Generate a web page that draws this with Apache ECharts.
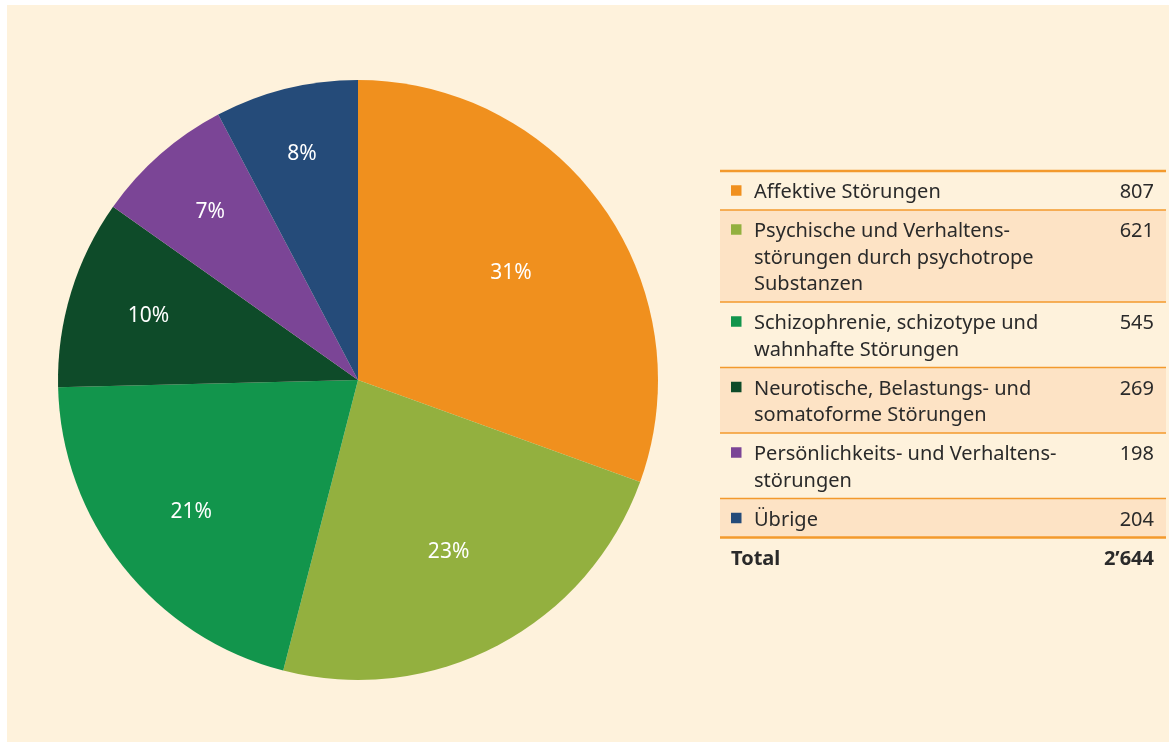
<!DOCTYPE html>
<html><head><meta charset="utf-8">
<script src="https://cdn.jsdelivr.net/npm/echarts@6/dist/echarts.min.js"></script>
<style>
html,body{margin:0;padding:0;background:#ffffff;}
#bg{position:absolute;left:7px;top:5px;width:1162px;height:737px;background:#fef2dc;}
#chart{position:absolute;left:0;top:0;width:1169px;height:742px;}
</style></head>
<body><div id="bg"></div><div id="chart"></div>
<script>
// ---- data ----
const categories = [
  'Affektive Störungen',
  'Psychische und Verhaltens-\nstörungen durch psychotrope\nSubstanzen',
  'Schizophrenie, schizotype und\nwahnhafte Störungen',
  'Neurotische, Belastungs- und\nsomatoforme Störungen',
  'Persönlichkeits- und Verhaltens-\nstörungen',
  'Übrige'
];
const values = [807, 621, 545, 269, 198, 204];
const valueLabels = ['807', '621', '545', '269', '198', '204'];
const totalLabel = 'Total';
const totalValue = '2’644';

// ---- styles ----
const colors = ['#f0901e', '#93b03f', '#12954c', '#0e4b29', '#7b4596', '#254b79'];
const labelRadius = [187, 194, 213, 219, 224, 233];
const CX = 358, CY = 380, R = 300;
const FONT = '"Noto Sans", "Open Sans", sans-serif';
const TEXT = '#2a2a2a';
const LINE = '#f39a2d';
const PEACH = '#fde3c5';

const chart = echarts.init(document.getElementById('chart'), null, {renderer: 'canvas'});

// ---- table graphics ----
const tL = 720, tR = 1166, markX = 731, textX = 754, valX = 1154;
const lineH = 26.5, padT = 6.75, padB = 5.75, textShift = 1.5;
const graphics = [];
const lines = [];
let y = 171;
categories.forEach((name, i) => {
  const parts = name.split('\n');
  const h = padT + padB + parts.length * lineH;
  if (i % 2 === 1) {
    graphics.push({type: 'rect', shape: {x: tL, y: y, width: tR - tL, height: h}, style: {fill: PEACH}, silent: true});
  }
  graphics.push({type: 'rect', shape: {x: markX, y: y + padT + 7.5, width: 10.5, height: 10.5}, style: {fill: colors[i]}, silent: true});
  parts.forEach((p, k) => {
    graphics.push({type: 'text', style: {text: p, x: textX, y: y + padT + lineH * k + lineH / 2 + textShift, font: '20px ' + FONT, fill: TEXT, textAlign: 'left', textVerticalAlign: 'middle'}, silent: true});
  });
  graphics.push({type: 'text', style: {text: valueLabels[i], x: valX, y: y + padT + lineH / 2 + textShift, font: '20px ' + FONT, fill: TEXT, textAlign: 'right', textVerticalAlign: 'middle'}, silent: true});
  y += h;
  lines.push({y: y, w: i === categories.length - 1 ? 2.5 : 1.5});
});
lines.unshift({y: 171, w: 2.5});
lines.forEach(l => {
  graphics.push({type: 'line', shape: {x1: tL, y1: l.y, x2: tR, y2: l.y}, style: {stroke: LINE, lineWidth: l.w}, silent: true});
});
graphics.push({type: 'text', style: {text: totalLabel, x: markX, y: y + padT + lineH / 2 + textShift, font: 'bold 20px ' + FONT, fill: TEXT, textAlign: 'left', textVerticalAlign: 'middle'}, silent: true});
graphics.push({type: 'text', style: {text: totalValue, x: valX, y: y + padT + lineH / 2 + textShift, font: 'bold 20px ' + FONT, fill: TEXT, textAlign: 'right', textVerticalAlign: 'middle'}, silent: true});

chart.setOption({
  animation: false,
  backgroundColor: 'transparent',
  color: colors,
  graphic: {elements: graphics},
  series: [{
    type: 'pie',
    center: [CX, CY],
    radius: [0, R],
    startAngle: 90,
    clockwise: true,
    avoidLabelOverlap: false,
    silent: true,
    itemStyle: {borderWidth: 0},
    label: {
      show: true,
      position: 'inside',
      color: '#ffffff',
      fontSize: 21,
      fontFamily: FONT,
      formatter: p => Math.round(p.percent) + '%'
    },
    labelLine: {show: false},
    labelLayout: function (params) {
      const r = params.labelRect;
      const lx = r.x + r.width / 2, ly = r.y + r.height / 2;
      const ang = Math.atan2(ly - CY, lx - CX);
      const rad = labelRadius[params.dataIndex];
      return {dx: CX + rad * Math.cos(ang) - lx, dy: CY + rad * Math.sin(ang) - ly};
    },
    data: categories.map((c, i) => ({name: c, value: values[i]}))
  }]
});
</script>
</body></html>
